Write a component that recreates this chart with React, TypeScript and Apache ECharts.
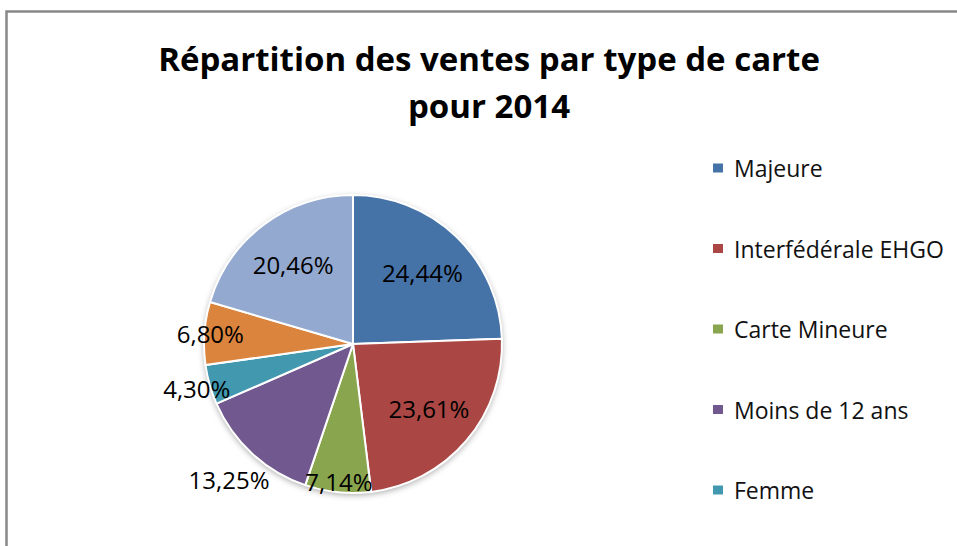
import React, { useEffect, useRef } from 'react';
import * as echarts from 'echarts';

const categories = ['Majeure', 'Interfédérale EHGO', 'Carte Mineure', 'Moins de 12 ans', 'Femme', 'Découverte', 'Autres'];
const values = [24.44, 23.61, 7.14, 13.25, 4.3, 6.8, 20.46];
const legendNames = ['Majeure', 'Interfédérale EHGO', 'Carte Mineure', 'Moins de 12 ans', 'Femme'];
const titleLines = ['Répartition des ventes par type de carte', 'pour 2014'];

const colors = ['#4572A7', '#AA4643', '#89A54E', '#71588F', '#4198AF', '#DB843D', '#93A9CF'];
// label distance from centre, as a fraction of the radius (Excel "best fit")
const labelDist = [0.65, 0.65, 0.91, 1.21, 1.07, 0.94, 0.65];

const FONT = '"Open Sans", "Noto Sans", sans-serif';
const CENTER = [353, 344];
const R = 149;

const fmt = (v: number) => v.toFixed(2).replace('.', ',') + '%';

export default function App() {
  const ref = useRef<HTMLDivElement>(null);
  useEffect(() => {
    if (!ref.current) return;
    const chart = echarts.init(ref.current, null, { renderer: 'svg' });

    const dists = Array.from(new Set(labelDist));
    const labelSeries = dists.map((d) => ({
      type: 'pie',
      silent: true,
      center: CENTER,
      radius: [0, 2 * d * R],
      startAngle: 90,
      clockwise: true,
      avoidLabelOverlap: false,
      z: 5,
      itemStyle: { color: 'rgba(0,0,0,0)', borderWidth: 0 },
      emphasis: { disabled: true },
      labelLine: { show: false },
      label: {
        position: 'inside',
        fontFamily: FONT,
        fontSize: 24,
        color: '#000',
        formatter: (p: any) => fmt(p.value),
      },
      data: categories.map((name, i) => ({
        name,
        value: values[i],
        label: { show: labelDist[i] === d },
      })),
    }));

    chart.setOption({
      animation: false,
      backgroundColor: '#fff',
      color: colors,
      graphic: [
        {
          type: 'rect',
          shape: { x: 6.5, y: 11.5, width: 1000, height: 600 },
          style: { fill: 'none', stroke: '#888', lineWidth: 2.5 },
          z: 0,
        },
        {
          type: 'text',
          x: 489,
          y: 35,
          style: {
            text: titleLines.join('\n'),
            fontFamily: FONT,
            fontWeight: 'bold',
            fontSize: 33,
            lineHeight: 47,
            fill: '#000',
            textAlign: 'center',
            textVerticalAlign: 'top',
          },
        },
      ],
      legend: {
        data: legendNames,
        orient: 'vertical',
        left: 706,
        top: 151,
        icon: 'rect',
        itemWidth: 12,
        itemHeight: 11,
        itemGap: 56.5,
        textStyle: {
          fontFamily: FONT,
          fontSize: 23,
          lineHeight: 24,
          color: '#111',
          padding: [0, 0, 0, 5],
        },
        selectedMode: false,
      },
      series: [
        {
          type: 'pie',
          silent: true,
          center: CENTER,
          radius: [0, R],
          z: 1,
          itemStyle: {
            color: '#fff',
            shadowBlur: 6,
            shadowColor: 'rgba(0,0,0,0.35)',
            shadowOffsetY: 2,
          },
          label: { show: false },
          labelLine: { show: false },
          emphasis: { disabled: true },
          data: [{ name: '', value: 1 }],
        },
        {
          type: 'pie',
          center: CENTER,
          radius: [0, R],
          startAngle: 90,
          clockwise: true,
          z: 2,
          itemStyle: { borderColor: '#fff', borderWidth: 2 },
          label: { show: false },
          labelLine: { show: false },
          emphasis: { disabled: true },
          data: categories.map((name, i) => ({ name, value: values[i], itemStyle: { color: colors[i] } })),
        },
        ...labelSeries,
      ],
    });
    return () => chart.dispose();
  }, []);
  return (
    <div
      ref={ref}
      style={{ position: 'absolute', left: 0, top: 0, width: 957, height: 546, background: '#fff' }}
    />
  );
}
